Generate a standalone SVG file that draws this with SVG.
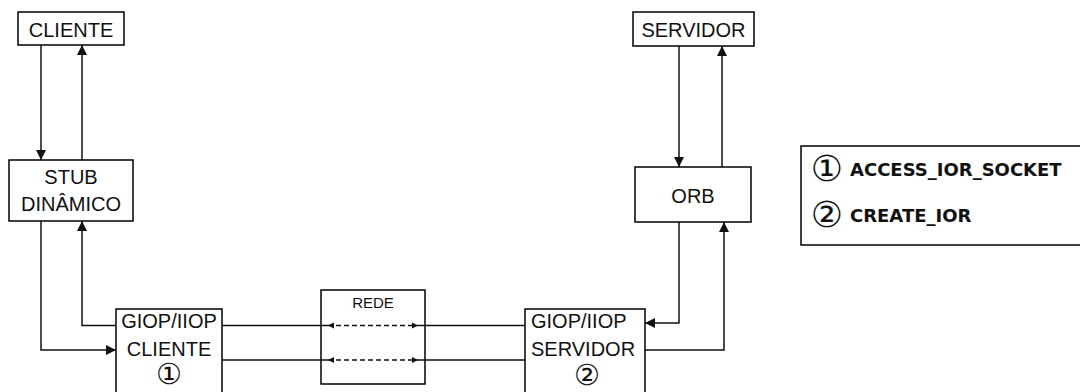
<svg xmlns="http://www.w3.org/2000/svg" width="1080" height="392" viewBox="0 0 1080 392">
<style>
.box{fill:#fff;stroke:#000;stroke-width:1.5}
.lbl{font-family:"Liberation Sans",Arial,sans-serif;font-size:20px;fill:#111}
.num{font-family:"DejaVu Sans","Noto Sans CJK SC",sans-serif;font-size:29px;fill:#111}
.leg{font-family:"DejaVu Sans",sans-serif;font-weight:bold;font-size:18px;fill:#111}
.ln{fill:none;stroke:#111;stroke-width:1.5}
.dash{fill:none;stroke:#111;stroke-width:1.5;stroke-dasharray:5,3}
</style>
<defs>
<marker id="ah" viewBox="0 0 10 10" refX="10" refY="5" markerWidth="10" markerHeight="10" markerUnits="userSpaceOnUse" orient="auto">
<path d="M0,0 L10,5 L0,10 z" fill="#111"/>
</marker>
<marker id="sah" viewBox="0 0 10 10" refX="10" refY="5" markerWidth="6" markerHeight="7" markerUnits="userSpaceOnUse" orient="auto-start-reverse">
<path d="M0,0 L10,5 L0,10 z" fill="#111"/>
</marker>
</defs>
<g id="cliente">
<rect class="box" x="18" y="12" width="106" height="33"/>
<text class="lbl" x="71" y="37" text-anchor="middle">CLIENTE</text>
</g>
<g id="stub">
<rect class="box" x="9" y="160" width="124" height="61"/>
<text class="lbl" x="71" y="184" text-anchor="middle">STUB</text>
<text class="lbl" x="71" y="211" text-anchor="middle">DINÂMICO</text>
</g>
<g id="giop-cliente">
<rect class="box" x="116" y="309" width="106" height="100"/>
<text class="lbl" x="169" y="328" text-anchor="middle">GIOP/IIOP</text>
<text class="lbl" x="169" y="356" text-anchor="middle">CLIENTE</text>
<text class="num" x="169" y="384" text-anchor="middle">①</text>
</g>
<g id="rede">
<rect class="box" x="321" y="290" width="104" height="94" style="fill:none"/>
<text class="lbl" x="373" y="307.5" text-anchor="middle" style="font-size:15px">REDE</text>
</g>
<g id="giop-servidor">
<rect class="box" x="525" y="309" width="120" height="100"/>
<text class="lbl" x="531" y="328">GIOP/IIOP</text>
<text class="lbl" x="531" y="356">SERVIDOR</text>
<text class="num" x="587" y="385" text-anchor="middle">②</text>
</g>
<g id="servidor">
<rect class="box" x="633" y="12" width="121" height="34"/>
<text class="lbl" x="693.5" y="37" text-anchor="middle">SERVIDOR</text>
</g>
<g id="orb">
<rect class="box" x="635" y="167" width="116" height="55"/>
<text class="lbl" x="693" y="202.5" text-anchor="middle">ORB</text>
</g>
<g id="legend">
<rect class="box" x="801" y="146" width="290" height="99"/>
<text class="num" x="827" y="181" text-anchor="middle" style="font-size:36px">①</text>
<text class="leg" x="850" y="176">ACCESS_IOR_SOCKET</text>
<text class="num" x="827" y="227" text-anchor="middle" style="font-size:36px">②</text>
<text class="leg" x="850" y="222">CREATE_IOR</text>
</g>
<g id="connectors">
<line class="ln" x1="41" y1="45" x2="41" y2="160" marker-end="url(#ah)"/>
<line class="ln" x1="82" y1="160" x2="82" y2="45" marker-end="url(#ah)"/>
<path class="ln" d="M41,221 V350 H116" marker-end="url(#ah)"/>
<path class="ln" d="M116,325.5 H82 V221" marker-end="url(#ah)"/>
<line class="ln" x1="222" y1="325.5" x2="328" y2="325.5"/>
<line class="ln" x1="222" y1="360" x2="328" y2="360"/>
<line class="dash" x1="328" y1="325.5" x2="418" y2="325.5" marker-start="url(#sah)" marker-end="url(#sah)"/>
<line class="dash" x1="328" y1="360" x2="418" y2="360" marker-start="url(#sah)" marker-end="url(#sah)"/>
<line class="ln" x1="418" y1="325.5" x2="525" y2="325.5"/>
<line class="ln" x1="418" y1="360" x2="525" y2="360"/>
<line class="ln" x1="679" y1="46" x2="679" y2="167" marker-end="url(#ah)"/>
<line class="ln" x1="722" y1="167" x2="722" y2="46" marker-end="url(#ah)"/>
<path class="ln" d="M679,222 V323 H645" marker-end="url(#ah)"/>
<path class="ln" d="M645,350 H724 V222" marker-end="url(#ah)"/>
</g>
</svg>
